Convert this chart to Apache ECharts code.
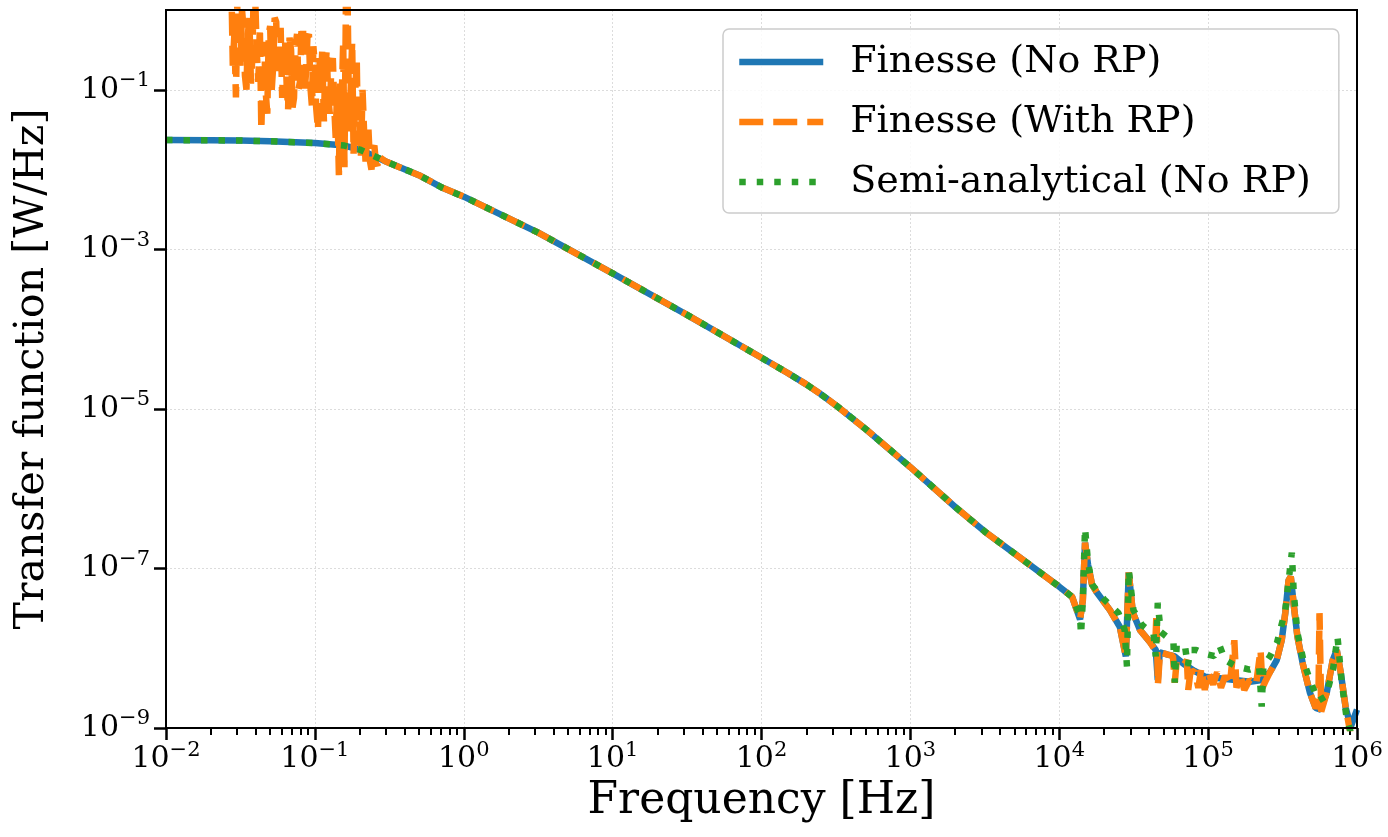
<!DOCTYPE html>
<html><head><meta charset="utf-8">
<script src="https://cdn.jsdelivr.net/npm/echarts@6/dist/echarts.min.js"></script>
<style>html,body{margin:0;padding:0;background:#fff}#c{width:1388px;height:837px}</style>
</head><body><div id="c"></div>
<script>
const FONT = 'DejaVu Serif';

// Series names
const seriesNames = ['Finesse (No RP)', 'Finesse (With RP)', 'Semi-analytical (No RP)'];

// Common low/mid frequency response (all three curves overlap here)
const baseCurve = [
  [1e-2, 2.34e-2], [2e-2, 2.33e-2], [3.16e-2, 2.31e-2], [5e-2, 2.26e-2], [1e-1, 2.15e-2],
  [1.58e-1, 2.0e-2], [2e-1, 1.78e-2], [3e-1, 1.26e-2], [5e-1, 8.5e-3], [7.2e-1, 5.9e-3],
  [1, 4.57e-3], [3.16, 1.62e-3], [10, 5.0e-4], [31.6, 1.51e-4], [100, 4.37e-5],
  [150, 2.82e-5], [200, 2.03e-5], [250, 1.53e-5], [316, 1.11e-5], [500, 5.6e-6],
  [1000, 1.86e-6], [2000, 5.9e-7], [3160, 2.9e-7], [1e4, 5.9e-8]
];

// Finesse (No RP) above 10 kHz
const noRpHigh = [
  [1.22e4, 4.4e-8], [1.38e4, 2.3e-8], [1.44e4, 4.0e-8], [1.49e4, 2.1e-7], [1.56e4, 1.12e-7],
  [1.66e4, 6.3e-8], [1.79e4, 5.0e-8], [2.19e4, 3.0e-8], [2.55e4, 1.86e-8], [2.8e4, 7.9e-9],
  [2.93e4, 8.9e-8], [3.12e4, 2.8e-8], [3.48e4, 1.7e-8], [4.06e4, 1.2e-8], [4.45e4, 9.5e-9],
  [4.59e4, 4.0e-9], [4.73e4, 8.9e-9], [5.36e4, 8.3e-9], [5.97e4, 7.9e-9], [6.9e4, 6.3e-9],
  [8.1e4, 5.2e-9], [9.5e4, 4.4e-9], [1.2e5, 4.2e-9], [1.51e5, 4.0e-9], [1.91e5, 3.8e-9],
  [2.29e5, 4.0e-9], [2.6e5, 5.0e-9], [2.89e5, 7.1e-9], [3.12e5, 1.26e-8], [3.3e5, 2.8e-8],
  [3.47e5, 7.1e-8], [3.59e5, 7.9e-8], [3.76e5, 3.5e-8], [3.98e5, 1.4e-8], [4.33e5, 6.3e-9],
  [4.82e5, 2.8e-9], [5.28e5, 1.78e-9], [5.71e5, 1.7e-9], [6.27e5, 2.8e-9], [6.87e5, 7.1e-9],
  [7.31e5, 9.5e-9], [7.77e5, 5.0e-9], [8.4e5, 1.78e-9], [9.1e5, 1.05e-9], [1e6, 1.7e-9]
];

// Finesse (With RP) below 0.3 Hz (noisy)
const withRpLow = [
  [1e-2, 3.0], [2.6e-2, 3.0],
  [2.75e-2, 2.0], [2.81e-2, 2.0e-1], [2.88e-2, 5.0e-1], [2.95e-2, 8.0e-2], [3.02e-2, 1.58], [3.09e-2, 4.0e-1],
  [3.16e-2, 2.0e-1], [3.24e-2, 1.0], [3.31e-2, 6.3e-1], [3.39e-2, 1.5e-1], [3.47e-2, 1.0e-1], [3.55e-2, 5.0e-1],
  [3.63e-2, 7.9e-1], [3.72e-2, 1.2e-1], [3.80e-2, 2.5e-1], [3.89e-2, 2.0], [3.98e-2, 1.26], [4.07e-2, 3.0e-1],
  [4.17e-2, 1.26e-1], [4.27e-2, 6.0e-1], [4.37e-2, 3.16e-2], [4.47e-2, 2.0e-1], [4.57e-2, 3.98e-1], [4.68e-2, 9.0e-2],
  [4.79e-2, 5.0e-2], [4.90e-2, 5.0e-1], [5.01e-2, 6.3e-1], [5.13e-2, 1.0e-1], [5.25e-2, 2.0e-1], [5.37e-2, 8.0e-1],
  [5.50e-2, 7.1e-1], [5.62e-2, 1.5e-1], [5.75e-2, 2.5e-1], [5.89e-2, 6.0e-1], [6.03e-2, 7.9e-2], [6.17e-2, 3.0e-1],
  [6.31e-2, 4.0e-1], [6.46e-2, 1.2e-1], [6.61e-2, 5.6e-2], [6.76e-2, 4.5e-1], [6.92e-2, 3.16e-1], [7.08e-2, 6.0e-2],
  [7.24e-2, 7.9e-2], [7.41e-2, 3.5e-1], [7.59e-2, 5.0e-1], [7.76e-2, 1.0e-1], [7.94e-2, 1.26e-1], [8.13e-2, 5.5e-1],
  [8.32e-2, 6.3e-1], [8.51e-2, 9.0e-2], [8.71e-2, 1.58e-1], [8.91e-2, 4.5e-1], [9.12e-2, 5.0e-1], [9.33e-2, 1.1e-1],
  [9.55e-2, 6.3e-2], [9.77e-2, 3.5e-1], [1.00e-1, 2.0e-1], [1.02e-1, 6.0e-2], [1.05e-1, 3.16e-2], [1.07e-1, 2.5e-1],
  [1.10e-1, 1.26e-1], [1.12e-1, 3.0e-1], [1.15e-1, 4.0e-2], [1.17e-1, 1.5e-1], [1.20e-1, 3.16e-1], [1.23e-1, 8.0e-2],
  [1.26e-1, 5.0e-2], [1.29e-1, 2.0e-1], [1.32e-1, 2.5e-1], [1.35e-1, 6.0e-2], [1.38e-1, 2.5e-2], [1.41e-1, 1.0e-1],
  [1.45e-1, 8.5e-3], [1.48e-1, 1.2e-1], [1.51e-1, 6.3e-2], [1.55e-1, 4.0e-1], [1.58e-1, 1.07e-2], [1.62e-1, 2.0],
  [1.66e-1, 1.26], [1.70e-1, 3.0e-2], [1.74e-1, 1.0e-1], [1.78e-1, 4.0e-1], [1.82e-1, 1.58e-2], [1.86e-1, 8.0e-2],
  [1.91e-1, 2.5e-1], [1.95e-1, 2.0e-2], [2.00e-1, 4.0e-2], [2.04e-1, 1.5e-2], [2.09e-1, 1.0e-1], [2.14e-1, 3.0e-2],
  [2.19e-1, 1.26e-2], [2.24e-1, 2.5e-2], [2.29e-1, 3.16e-2], [2.34e-1, 1.3e-2], [2.40e-1, 1.0e-2], [2.45e-1, 1.8e-2],
  [2.51e-1, 2.0e-2], [2.57e-1, 1.2e-2], [2.63e-1, 1.12e-2], [2.69e-1, 1.5e-2], [2.75e-1, 1.41e-2]
];

// Finesse (With RP) above 10 kHz
const withRpHigh = [
  [1.22e4, 4.4e-8], [1.38e4, 2.3e-8], [1.44e4, 4.0e-8], [1.49e4, 2.1e-7], [1.56e4, 1.12e-7],
  [1.66e4, 6.3e-8], [1.79e4, 5.0e-8], [2.19e4, 3.0e-8], [2.55e4, 1.86e-8], [2.8e4, 7.9e-9],
  [2.93e4, 8.9e-8], [3.12e4, 2.8e-8], [3.48e4, 1.7e-8], [4.06e4, 1.2e-8], [4.4e4, 9.5e-9],
  [4.5e4, 2.75e-8], [4.6e4, 3.5e-9], [4.75e4, 8.9e-9], [5.36e4, 8.3e-9], [5.8e4, 8.0e-9],
  [5.97e4, 3.7e-9], [6.15e4, 7.0e-9], [6.9e4, 6.3e-9], [7.2e4, 7.1e-9], [7.35e4, 3.0e-9],
  [7.6e4, 5.0e-9], [8.1e4, 5.2e-9], [8.6e4, 3.2e-9], [9.0e4, 5.6e-9], [9.5e4, 3.0e-9],
  [1.0e5, 5.0e-9], [1.08e5, 3.5e-9], [1.15e5, 5.0e-9], [1.22e5, 3.2e-9], [1.3e5, 4.5e-9],
  [1.4e5, 3.5e-9], [1.5e5, 1.26e-8], [1.55e5, 3.2e-9], [1.65e5, 4.5e-9], [1.75e5, 3.0e-9],
  [1.9e5, 4.0e-9], [2.1e5, 3.5e-9], [2.25e5, 9.5e-9], [2.32e5, 3.2e-9], [2.45e5, 4.0e-9],
  [2.6e5, 5.0e-9], [2.89e5, 7.1e-9], [3.12e5, 1.26e-8], [3.3e5, 2.8e-8], [3.47e5, 7.1e-8],
  [3.59e5, 7.9e-8], [3.76e5, 3.5e-8], [3.98e5, 1.4e-8], [4.33e5, 6.3e-9], [4.82e5, 2.8e-9],
  [5.28e5, 1.78e-9], [5.5e5, 2.0e-9], [5.6e5, 2.75e-8], [5.75e5, 1.6e-9], [6.27e5, 2.8e-9],
  [6.87e5, 7.1e-9], [7.31e5, 9.5e-9], [7.77e5, 5.0e-9], [8.4e5, 1.78e-9], [9.1e5, 8.0e-10],
  [1e6, 7.0e-10]
];

// Semi-analytical (No RP) above 10 kHz
const semiHigh = [
  [1.22e4, 4.4e-8], [1.38e4, 2.5e-8], [1.40e4, 1.48e-8], [1.44e4, 4.0e-8], [1.49e4, 3.2e-7],
  [1.56e4, 1.2e-7], [1.66e4, 6.3e-8], [2.0e4, 4.1e-8], [2.5e4, 2.75e-8], [2.75e4, 1.7e-8],
  [2.85e4, 5.9e-9], [2.93e4, 9.5e-8], [3.15e4, 3.0e-8], [3.6e4, 1.95e-8], [4.3e4, 1.5e-8],
  [4.45e4, 7.9e-9], [4.59e4, 3.7e-8], [4.8e4, 1.6e-8], [5.3e4, 1.38e-8], [5.85e4, 1.2e-8],
  [5.97e4, 3.7e-9], [6.15e4, 1.1e-8], [7.0e4, 1.05e-8], [7.3e4, 6.0e-9], [7.6e4, 9.5e-9],
  [8.3e4, 9.5e-9], [9.5e4, 8.5e-9], [1.1e5, 8.0e-9], [1.2e5, 1.05e-8], [1.3e5, 7.1e-9],
  [1.55e5, 5.9e-9], [1.9e5, 5.4e-9], [2.2e5, 5.9e-9], [2.29e5, 1.86e-9], [2.35e5, 5.9e-9],
  [2.6e5, 7.9e-9], [2.9e5, 1.17e-8], [3.3e5, 3.0e-8], [3.5e5, 7.9e-8], [3.65e5, 1.58e-7],
  [3.76e5, 4.9e-8], [3.98e5, 1.55e-8], [4.4e5, 6.6e-9], [4.9e5, 3.7e-9], [5.5e5, 2.2e-9],
  [6.2e5, 2.5e-9], [6.9e5, 5.4e-9], [7.4e5, 1.38e-8], [7.9e5, 3.7e-9], [8.5e5, 1.38e-9],
  [9.2e5, 8.0e-10], [1e6, 6.0e-10]
];

// Axis ticks
const yTickExponents = [-9, -7, -5, -3, -1];
const xMinorMultipliers = [2, 3, 4, 5, 6, 7, 8, 9];
const xDecadeExponents = [-2, -1, 0, 1, 2, 3, 4, 5];

const noRpData = baseCurve.concat(noRpHigh);
const withRpData = withRpLow.concat(baseCurve.filter(p => p[0] >= 0.3)).concat(withRpHigh);
const semiData = baseCurve.concat(semiHigh);

const xMinorExp = [];
xDecadeExponents.forEach(e => xMinorMultipliers.forEach(m => xMinorExp.push(Math.log10(m) + e)));

function sup(e) {
  const s = e < 0 ? '\u2212' + (-e) : String(e);
  return '{b|10}{s|' + s + '}';
}
const richLabel = {
  b: { fontFamily: FONT, fontSize: 30, color: '#000' },
  s: { fontFamily: FONT, fontSize: 21, color: '#000', padding: [0, 0, 18, 0] }
};
const gridLine = { show: true, lineStyle: { color: '#dcdcdc', width: 1, type: [2, 2] } };

const chart = echarts.init(document.getElementById('c'), null, { renderer: 'canvas' });
chart.setOption({
  animation: false,
  backgroundColor: '#fff',
  grid: { left: 166, right: 31, top: 10, bottom: 109, show: true, borderColor: '#000', borderWidth: 2, backgroundColor: 'transparent', z: 10 },
  legend: {
    data: seriesNames,
    orient: 'vertical', left: 723, top: 29,
    itemWidth: 84, itemHeight: 20, itemGap: 14,
    padding: [10, 28, 8, 13],
    backgroundColor: 'rgba(255,255,255,0.85)', borderColor: '#cccccc', borderWidth: 1.5, borderRadius: 6,
    textStyle: { fontFamily: FONT, fontSize: 38, color: '#000', padding: [0, 0, 0, 22], lineHeight: 46 },
    lineStyle: { width: 6.5 },
    itemStyle: { opacity: 0 },
    z: 20
  },
  xAxis: [
    {
      type: 'log', logBase: 10, min: 1e-2, max: 1e6, position: 'bottom',
      name: 'Frequency [Hz]', nameLocation: 'middle', nameGap: 50,
      nameTextStyle: { fontFamily: FONT, fontSize: 44, color: '#000' },
      axisLine: { show: true, onZero: false, lineStyle: { color: '#000', width: 2 } },
      axisTick: { show: true, length: 12, lineStyle: { color: '#000', width: 2.5 } },
      axisLabel: { margin: 12, formatter: v => sup(Math.round(Math.log10(v))), rich: richLabel },
      splitLine: gridLine,
      minorTick: { show: false }
    },
    {
      type: 'value', min: -2, max: 6, position: 'bottom',
      axisLine: { show: false, onZero: false },
      axisTick: { show: true, length: 7, customValues: xMinorExp, lineStyle: { color: '#000', width: 2 } },
      axisLabel: { show: false },
      splitLine: { show: false }
    }
  ],
  yAxis: [
    {
      type: 'log', logBase: 10, min: 1e-9, max: 1, position: 'left',
      name: 'Transfer function [W/Hz]', nameLocation: 'middle', nameGap: 113,
      nameTextStyle: { fontFamily: FONT, fontSize: 41, color: '#000' },
      axisLine: { show: true, onZero: false, lineStyle: { color: '#000', width: 2 } },
      axisTick: { show: false },
      axisLabel: { show: false },
      splitLine: { show: false }
    },
    {
      type: 'value', min: -9, max: 0, interval: 2, position: 'left',
      axisLine: { show: false, onZero: false },
      axisTick: { show: true, length: 12, customValues: yTickExponents, lineStyle: { color: '#000', width: 2.5 } },
      axisLabel: { margin: 16, customValues: yTickExponents, formatter: v => sup(Math.round(v)), rich: richLabel },
      splitLine: gridLine
    }
  ],
  series: [
    {
      name: seriesNames[0], type: 'line', data: noRpData, xAxisIndex: 0, yAxisIndex: 0,
      symbol: 'none', color: '#1f77b4', lineStyle: { color: '#1f77b4', width: 6.5 }, z: 2
    },
    {
      name: seriesNames[1], type: 'line', data: withRpData, xAxisIndex: 0, yAxisIndex: 0,
      symbol: 'none', color: '#ff7f0e', lineStyle: { color: '#ff7f0e', width: 6.5, type: [24, 10] }, z: 3
    },
    {
      name: seriesNames[2], type: 'line', data: semiData, xAxisIndex: 0, yAxisIndex: 0,
      symbol: 'none', color: '#2ca02c', lineStyle: { color: '#2ca02c', width: 6.5, type: [6.5, 11] }, z: 4
    }
  ]
});
</script>
</body></html>
